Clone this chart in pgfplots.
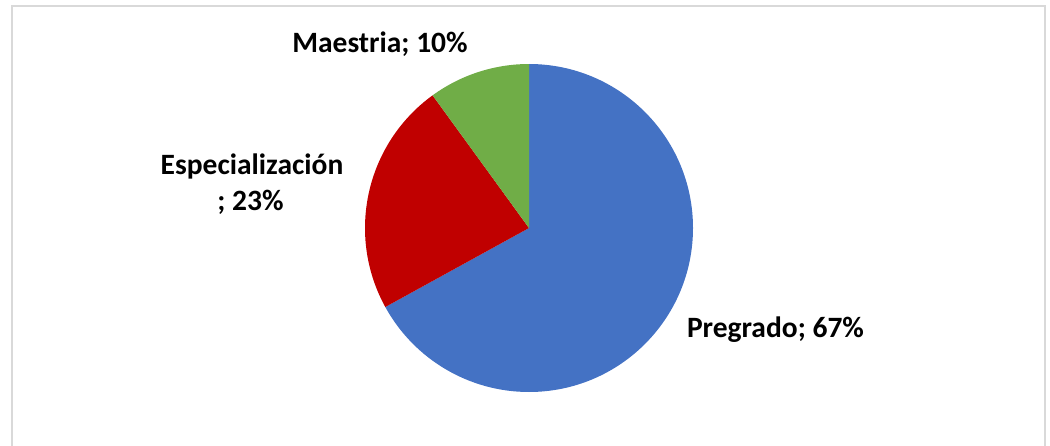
\documentclass[border=0pt]{standalone}
\usepackage{pgfplots}
\pgfplotsset{compat=1.18}
\usepackage{fontspec}
\setmainfont{Carlito}
\definecolor{pblue}{HTML}{4472C4}
\definecolor{pred}{HTML}{C00000}
\definecolor{pgreen}{HTML}{70AD47}
\definecolor{frame}{HTML}{D9D9D9}
\begin{document}
\begin{tikzpicture}
\begin{axis}[
  width=1050pt, height=445pt, scale only axis,
  xmin=0, xmax=1050, ymin=0, ymax=445,
  hide axis, clip=false, at={(0,0)}, anchor=south west]
% shares in percent: Pregrado 67, Especializacion 23, Maestria 10
\fill[pblue]  (axis cs:529,217) -- ++(90:164pt) arc[start angle=90, end angle={90-67*3.6}, radius=164pt] -- cycle;
\fill[pred]   (axis cs:529,217) -- ++({90-67*3.6}:164pt) arc[start angle={90-67*3.6}, end angle={90-90*3.6}, radius=164pt] -- cycle;
\fill[pgreen] (axis cs:529,217) -- ++({90-90*3.6}:164pt) arc[start angle={90-90*3.6}, end angle={90-100*3.6}, radius=164pt] -- cycle;
\draw[frame, line width=1.5pt] (axis cs:12,-10) -- (axis cs:12,439) -- (axis cs:1045,439) -- (axis cs:1045,-10);
\node[anchor=base, font=\fontsize{29.5}{32}\selectfont\bfseries] at (axis cs:380,392) {Maestria; 10\%};
\node[anchor=base, font=\fontsize{29.5}{32}\selectfont\bfseries] at (axis cs:252,270) {Especialización};
\node[anchor=base, font=\fontsize{29.5}{32}\selectfont\bfseries] at (axis cs:250.5,235) {; 23\%};
\node[anchor=base, font=\fontsize{29.5}{32}\selectfont\bfseries] at (axis cs:775.5,108) {Pregrado; 67\%};
\end{axis}
\pgfresetboundingbox
\path[use as bounding box] (0,0) rectangle (1050pt,445pt);
\end{tikzpicture}
\end{document}
